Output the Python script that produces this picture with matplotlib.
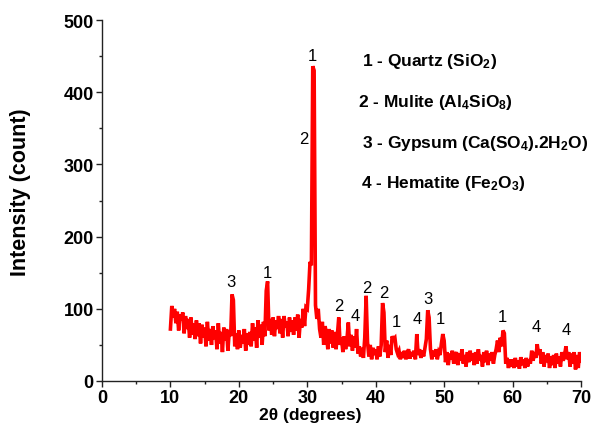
import numpy as np
import matplotlib
matplotlib.use("Agg")
import matplotlib.pyplot as plt
from matplotlib.ticker import MultipleLocator

plt.rcParams['font.family'] = ['Liberation Sans', 'DejaVu Sans']
plt.rcParams['mathtext.fontset'] = 'custom'
plt.rcParams['mathtext.rm'] = 'Liberation Sans:bold'
plt.rcParams['mathtext.bf'] = 'Liberation Sans:bold'
plt.rcParams['mathtext.default'] = 'bf'

# 2-theta grid (degrees), 0.2 degree step from 10 to 70
two_theta = np.round(np.arange(10.0, 70.0001, 0.2), 1)

# Intensity (count), one row per 2 degrees
intensity = [
    72, 104, 88, 100, 80, 96, 70, 92, 84, 95,        # 10.0 - 11.8
    66, 90, 72, 86, 60, 88, 64, 80, 58, 84,          # 12.0 - 13.8
    62, 80, 52, 78, 60, 74, 48, 82, 56, 72,          # 14.0 - 15.8
    50, 76, 58, 70, 44, 80, 52, 68, 40, 74,          # 16.0 - 17.8
    56, 72, 42, 70, 62, 120, 112, 48, 66, 44,        # 18.0 - 19.8
    70, 46, 64, 52, 72, 42, 66, 50, 68, 48,          # 20.0 - 21.8
    80, 56, 74, 46, 84, 60, 78, 50, 82, 62,          # 22.0 - 23.8
    125, 138, 70, 86, 64, 88, 62, 84, 72, 90,        # 24.0 - 25.8
    66, 86, 60, 90, 74, 82, 62, 88, 68, 84,          # 26.0 - 27.8
    64, 88, 70, 92, 60, 86, 74, 100, 76, 102,        # 28.0 - 29.8
    100, 127, 165, 160, 436, 430, 105, 86, 100, 72,  # 30.0 - 31.8
    60, 82, 50, 76, 66, 44, 72, 52, 70, 46,          # 32.0 - 33.8
    68, 44, 64, 88, 50, 60, 40, 62, 44, 58,          # 34.0 - 35.8
    81, 48, 64, 42, 62, 46, 72, 38, 48, 34,          # 36.0 - 37.8
    46, 32, 60, 118, 54, 34, 50, 30, 46, 36,         # 38.0 - 39.8
    44, 30, 48, 34, 50, 108, 95, 40, 56, 32,         # 40.0 - 41.8
    50, 36, 62, 58, 60, 44, 38, 42, 30, 40,          # 42.0 - 43.8
    32, 42, 30, 38, 44, 31, 40, 34, 42, 30,          # 44.0 - 45.8
    65, 36, 44, 32, 42, 34, 46, 58, 98, 88,          # 46.0 - 47.8
    44, 30, 42, 34, 44, 30, 40, 36, 52, 65,          # 48.0 - 49.8
    56, 26, 40, 22, 38, 30, 42, 24, 36, 40,          # 50.0 - 51.8
    22, 38, 28, 44, 24, 36, 20, 40, 26, 42,          # 52.0 - 53.8
    28, 38, 22, 40, 24, 44, 28, 36, 20, 40,          # 54.0 - 55.8
    26, 42, 22, 38, 28, 40, 24, 36, 44, 56,          # 56.0 - 57.8
    40, 60, 48, 70, 66, 24, 32, 18, 30, 20,          # 58.0 - 59.8
    30, 18, 32, 20, 28, 17, 33, 22, 30, 18,          # 60.0 - 61.8
    32, 20, 30, 24, 42, 28, 40, 32, 51, 36,          # 62.0 - 63.8
    44, 24, 40, 20, 36, 26, 38, 18, 34, 22,          # 64.0 - 65.8
    36, 18, 38, 24, 34, 20, 40, 28, 36, 48,          # 66.0 - 67.8
    30, 40, 20, 38, 24, 40, 16, 36, 18, 40,          # 68.0 - 69.8
    28,                                              # 70.0
]

# Peak phase labels and where they sit
peak_labels = ['3', '1', '1', '2', '2', '4', '2', '2', '1', '4', '3', '1', '1', '4', '4']
peak_label_x = [18.9, 24.1, 30.7, 29.5, 34.6, 37.0, 38.7, 41.2, 43.0, 46.0, 47.6, 49.5, 58.5, 63.4, 67.8]
peak_label_y = [138, 150, 451, 336, 105, 91, 130, 122, 82, 86, 114, 86, 89, 75, 72]

phase_lines = [
    r'1 - Quartz (SiO$_2$)',
    r'2 - Mulite (Al$_4$SiO$_8$)',
    r'3 - Gypsum (Ca(SO$_4$).2H$_2$O)',
    r'4 - Hematite (Fe$_2$O$_3$)',
]

fig = plt.figure(figsize=(6.06, 4.31), dpi=100)
ax = fig.add_axes([102 / 606, 49 / 431, 479 / 606, 361 / 431])

ax.plot(two_theta, intensity, color='#ff0000', linewidth=2.6, solid_joinstyle='miter')

ax.set_xlim(0, 70)
ax.set_ylim(0, 500)
ax.xaxis.set_major_locator(MultipleLocator(10))
ax.xaxis.set_minor_locator(MultipleLocator(5))
ax.yaxis.set_major_locator(MultipleLocator(100))
ax.yaxis.set_minor_locator(MultipleLocator(50))

for s in ['top', 'right']:
    ax.spines[s].set_visible(False)
for s in ['left', 'bottom']:
    ax.spines[s].set_linewidth(1.0)
    ax.spines[s].set_color('#222222')

ax.tick_params(which='major', direction='out', length=4, width=1.0, pad=2,
               labelsize=13, colors='#222222', labelcolor='black')
ax.tick_params(which='minor', direction='out', length=2.5, width=1.0, colors='#222222')
for lab in ax.get_xticklabels() + ax.get_yticklabels():
    lab.set_fontweight('bold')

ax.set_xlabel('2\u03b8 (degrees)', fontsize=12.5, fontweight='bold', va='center')
ax.xaxis.set_label_coords(0.434, -0.094)
ax.set_ylabel('Intensity (count)', fontsize=15.5, fontweight='bold', va='center')
ax.yaxis.set_label_coords(-0.171, 0.526)

for t, x, y in zip(peak_labels, peak_label_x, peak_label_y):
    ax.text(x, y, t, fontsize=12, ha='center', va='center', color='black')

leg_x = [0.543, 0.534, 0.543, 0.541]
leg_y = [0.875, 0.762, 0.648, 0.537]
for t, x, y in zip(phase_lines, leg_x, leg_y):
    ax.text(x, y, t, transform=ax.transAxes, fontsize=12.5, fontweight='bold',
            ha='left', va='baseline', color='black')

fig.savefig('out.png', dpi=100)
